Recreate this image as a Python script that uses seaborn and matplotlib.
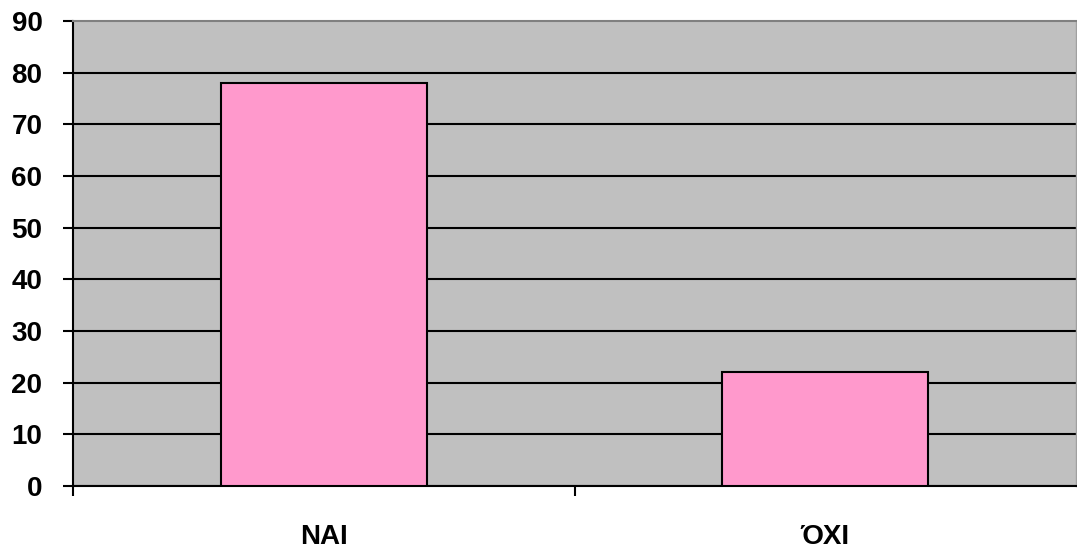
import matplotlib
matplotlib.use("Agg")
import matplotlib.pyplot as plt
import seaborn as sns
import pandas as pd
from matplotlib.ticker import FixedLocator

# data
categories = ["ΝΑΙ", "ΌΧΙ"]
values = [78, 22]
y_ticks = [0, 10, 20, 30, 40, 50, 60, 70, 80, 90]

df = pd.DataFrame({"cat": categories, "val": values})

sns.set_style("white")
plt.rcParams["font.family"] = ["Liberation Sans", "DejaVu Sans"]

fig = plt.figure(figsize=(10.77, 5.49), dpi=100)
ax = fig.add_axes([73 / 1077, 63 / 549, 1003 / 1077, 465 / 549])
ax.set_facecolor("#C0C0C0")

sns.barplot(data=df, x="cat", y="val", color="#FF99CC", saturation=1,
            edgecolor="black", linewidth=1.5, width=0.41, ax=ax, zorder=3)

ax.set_ylim(0, 90)
ax.set_xlim(-0.5, 1.5)
ax.set_yticks(y_ticks)
ax.yaxis.grid(True, color="black", linewidth=1.5, zorder=1)
ax.set_axisbelow(True)
# top line is the gray plot-area border, not a black gridline
ax.yaxis.get_gridlines()[-1].set_visible(False)

ax.spines["top"].set_color("#808080")
ax.spines["top"].set_linewidth(1.5)
ax.spines["right"].set_color("#A0A0A0")
ax.spines["right"].set_linewidth(1)
ax.spines["left"].set_color("black")
ax.spines["left"].set_linewidth(1.5)
ax.spines["bottom"].set_color("black")
ax.spines["bottom"].set_linewidth(1.5)

ax.tick_params(axis="y", which="major", direction="out", length=7, width=1.5,
               color="black", labelsize=20, labelcolor="black", pad=15, left=True)
ax.tick_params(axis="x", which="major", length=0, labelsize=20,
               labelcolor="black", pad=27)
ax.xaxis.set_minor_locator(FixedLocator([-0.5, 0.5]))
ax.tick_params(axis="x", which="minor", direction="out", length=7, width=1.5,
               color="black", bottom=True)

for lbl in ax.get_xticklabels() + ax.get_yticklabels():
    lbl.set_fontweight("bold")

ax.set_xlabel("")
ax.set_ylabel("")

fig.savefig("out.png", dpi=100, facecolor="white")
